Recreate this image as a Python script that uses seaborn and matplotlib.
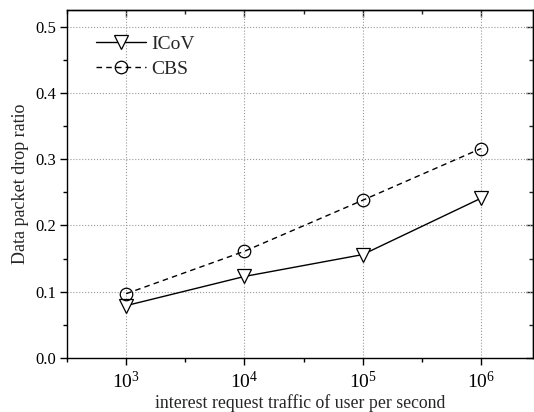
import numpy as np
import pandas as pd
import matplotlib
matplotlib.use("Agg")
import matplotlib.pyplot as plt
import seaborn as sns
from matplotlib.ticker import FixedLocator, MultipleLocator, NullFormatter, FormatStrFormatter

traffic = [1e3, 1e4, 1e5, 1e6]
icov = [0.079, 0.123, 0.156, 0.241]
cbs = [0.097, 0.161, 0.238, 0.316]
series_names = ["ICoV", "CBS"]
x_label = "interest request traffic of user per second"
y_label = "Data packet drop ratio"

sns.set_theme(style="ticks")
plt.rcParams['font.family'] = ['Liberation Serif', 'DejaVu Serif']
plt.rcParams['mathtext.fontset'] = 'custom'
plt.rcParams['mathtext.rm'] = 'Liberation Serif'
plt.rcParams['mathtext.it'] = 'Liberation Serif:italic'

df = pd.DataFrame({
    "x": traffic * 2,
    "y": icov + cbs,
    "series": [series_names[0]] * 4 + [series_names[1]] * 4,
})

fig = plt.figure(figsize=(5.34, 4.12), dpi=100)
ax = fig.add_axes([67 / 534, 1 - 358 / 412, (533 - 67) / 534, (358 - 10) / 412])

sns.lineplot(data=df[df.series == series_names[0]], x="x", y="y", ax=ax, color="black",
             linestyle="-", linewidth=1.0, marker="v", markersize=10,
             markerfacecolor="white", markeredgecolor="black", markeredgewidth=0.9,
             label=series_names[0])
sns.lineplot(data=df[df.series == series_names[1]], x="x", y="y", ax=ax, color="black",
             linestyle=(0, (4, 3)), linewidth=1.0, marker="o", markersize=9,
             markerfacecolor="none", markeredgecolor="black", markeredgewidth=0.9,
             label=series_names[1])

xmin, xmax = 10 ** 2.5, 10 ** 6.44
minor_x = [10 ** 2.5, 10 ** 3.5, 10 ** 4.5, 10 ** 5.5]
ax.set_xscale("log")
ax.set_xlim(xmin, xmax)
ax.set_ylim(0, 0.525)
ax.xaxis.set_major_locator(FixedLocator(traffic))
ax.xaxis.set_minor_locator(FixedLocator(minor_x))
ax.xaxis.set_minor_formatter(NullFormatter())
ax.set_xticklabels([r"$\mathrm{10^{%d}}$" % int(np.log10(v)) for v in traffic])
ax.yaxis.set_major_locator(MultipleLocator(0.1))
ax.yaxis.set_minor_locator(MultipleLocator(0.05))
ax.yaxis.set_major_formatter(FormatStrFormatter("%.1f"))

ax.grid(True, which="major", linestyle=":", color="#999999", linewidth=0.8)
for s in ax.spines.values():
    s.set_linewidth(1.0)
    s.set_color("black")

ax.tick_params(axis="both", which="both", colors="black", direction="out",
               top=False, right=False)
ax.tick_params(which="major", length=5, width=1.0)
ax.tick_params(which="minor", length=3, width=1.0)
ax.tick_params(axis="y", labelsize=12, pad=3)
ax.tick_params(axis="x", labelsize=14, pad=4)

# top and right ticks pointing inward
top = ax.secondary_xaxis("top")
top.xaxis.set_major_locator(FixedLocator(traffic))
top.xaxis.set_minor_locator(FixedLocator(minor_x))
top.tick_params(which="both", direction="in", labeltop=False, width=1.0)
top.tick_params(which="major", length=5)
top.tick_params(which="minor", length=3)
top.xaxis.set_major_formatter(NullFormatter())
top.xaxis.set_minor_formatter(NullFormatter())
right = ax.secondary_yaxis("right")
right.yaxis.set_major_locator(MultipleLocator(0.1))
right.yaxis.set_minor_locator(MultipleLocator(0.05))
right.tick_params(which="both", direction="in", labelright=False, width=1.0)
right.tick_params(which="major", length=5)
right.tick_params(which="minor", length=3)
right.yaxis.set_major_formatter(NullFormatter())
for sec in (top, right):
    for s in sec.spines.values():
        s.set_linewidth(1.0)

ax.set_xlabel(x_label, fontsize=12.8, labelpad=2)
ax.set_ylabel(y_label, fontsize=13, labelpad=4)

ax.legend(loc="upper left", frameon=False, fontsize=14, handlelength=2.6,
          bbox_to_anchor=(0.045, 0.95), handletextpad=0.25, labelspacing=0.4,
          borderaxespad=0.0)

fig.savefig("out.png", dpi=100)
